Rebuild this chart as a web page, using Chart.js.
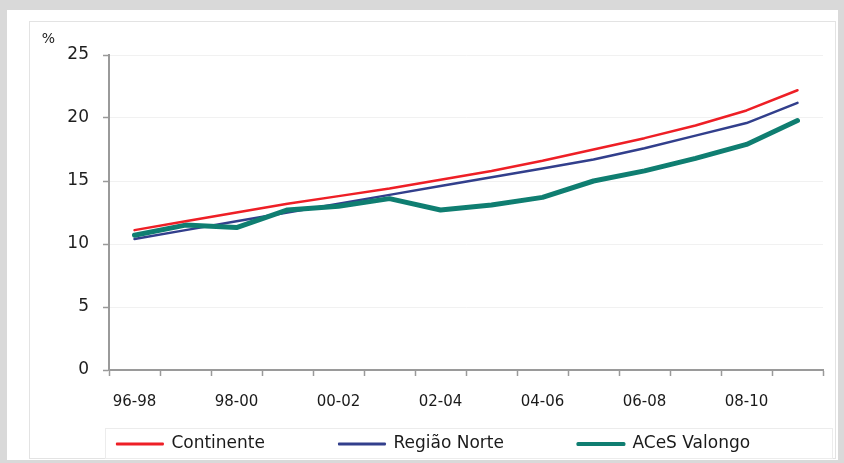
<!DOCTYPE html>
<html>
<head>
<meta charset="utf-8">
<script src="https://cdn.jsdelivr.net/npm/chart.js@4/dist/chart.umd.min.js"></script>
<style>
  html, body { margin: 0; padding: 0; background: #d9d9d9; }
  #wrap { width: 844px; height: 463px; position: relative; }
</style>
</head>
<body>
<div id="wrap"><canvas id="c" width="844" height="463"></canvas></div>
<script>
// ---- data ----
const categories = ['96-98','97-99','98-00','99-01','00-02','01-03','02-04','03-05','04-06','05-07','06-08','07-09','08-10','09-11'];
const continente   = [11.1, 11.8, 12.5, 13.2, 13.8, 14.4, 15.1, 15.8, 16.6, 17.5, 18.4, 19.4, 20.6, 22.2];
const regiaoNorte  = [10.4, 11.1, 11.8, 12.5, 13.2, 13.9, 14.6, 15.3, 16.0, 16.7, 17.6, 18.6, 19.6, 21.2];
const acesValongo  = [10.7, 11.5, 11.3, 12.7, 13.0, 13.6, 12.7, 13.1, 13.7, 15.0, 15.8, 16.8, 17.9, 19.8];
const seriesNames  = ['Continente', 'Região Norte', 'ACeS Valongo'];
const yTicks       = [0, 5, 10, 15, 20, 25];
const yUnit        = '%';

// ---- styles ----
const colors = ['#ee1f26', '#323f8c', '#0f7e71'];
const widths = [2.5, 2.5, 5];
const legendLineWidths = [2, 2, 3];
const FONT = "'DejaVu Sans', sans-serif";

const frame = {
  id: 'frame',
  beforeDraw(chart) {
    const ctx = chart.ctx;
    ctx.save();
    ctx.fillStyle = '#d9d9d9';
    ctx.fillRect(0, 0, chart.width, chart.height);
    ctx.fillStyle = '#ffffff';
    ctx.fillRect(7, 10, 831, 450);
    ctx.strokeStyle = '#e3e3e3';
    ctx.lineWidth = 1;
    ctx.strokeRect(29.5, 21.5, 806, 437);
    ctx.strokeStyle = '#ececec';
    ctx.strokeRect(105.5, 428.5, 727, 30);
    ctx.restore();
  },
  afterLayout(chart) {
    const lg = chart.legend;
    if (!lg) return;
    const pad = lg.options.labels.padding;
    const fs = lg.options.labels.font.size;
    lg.top = 444 - fs / 2 - pad;
    lg.bottom = 463;
    lg.left += 7;
    lg.right += 7;
  },
  afterDraw(chart) {
    const ctx = chart.ctx;
    ctx.save();
    ctx.fillStyle = '#222';
    ctx.font = "14px " + FONT;
    ctx.textAlign = 'center';
    ctx.textBaseline = 'middle';
    ctx.fillText(yUnit, 48.5, 39);
    ctx.restore();
  }
};

const dataArrays = [continente, regiaoNorte, acesValongo];
const drawOrder = [0, 2, 1];

new Chart(document.getElementById('c'), {
  type: 'line',
  data: {
    labels: categories,
    datasets: dataArrays.map((d, i) => ({
      label: seriesNames[i],
      data: d,
      borderColor: colors[i],
      backgroundColor: colors[i],
      borderWidth: widths[i],
      pointRadius: 0,
      pointHoverRadius: 0,
      tension: 0,
      borderJoinStyle: 'round',
      borderCapStyle: 'round',
      order: drawOrder[i]
    }))
  },
  options: {
    responsive: false,
    animation: false,
    devicePixelRatio: 1,
    layout: { padding: { left: 30, right: 21, top: 55, bottom: 23 } },
    scales: {
      x: {
        type: 'category',
        offset: true,
        grid: {
          offset: true,
          drawOnChartArea: false,
          drawTicks: true,
          tickLength: 6,
          tickColor: '#9a9a9a',
          tickWidth: 1.5
        },
        border: { display: true, color: '#9a9a9a', width: 2 },
        ticks: {
          autoSkip: false,
          maxRotation: 0,
          padding: 17,
          color: '#1a1a1a',
          font: { family: FONT, size: 15 },
          callback: function(v, i) { return i % 2 === 0 ? categories[i] : ''; }
        },
        afterFit(scale) { scale.height = 40; }
      },
      y: {
        min: 0,
        max: 25,
        afterBuildTicks(scale) { scale.ticks = yTicks.map(v => ({ value: v })); },
        grid: {
          color: '#f1f1f1',
          lineWidth: 1,
          drawTicks: true,
          tickLength: 6,
          tickColor: '#9a9a9a',
          tickWidth: 1.5
        },
        border: { display: true, color: '#9a9a9a', width: 2 },
        ticks: {
          padding: 14,
          color: '#1e1e1e',
          font: { family: FONT, size: 17 }
        },
        afterFit(scale) { scale.width = 79; }
      }
    },
    plugins: {
      tooltip: { enabled: false },
      legend: {
        display: true,
        position: 'bottom',
        maxHeight: 30,
        labels: {
          boxWidth: 46,
          boxHeight: 1,
          padding: 74,
          color: '#1a1a1a',
          font: { family: FONT, size: 17 },
          sort: (a, b) => a.datasetIndex - b.datasetIndex,
          generateLabels(chart) {
            const items = Chart.defaults.plugins.legend.labels.generateLabels(chart);
            items.forEach(it => {
              it.lineWidth = legendLineWidths[it.datasetIndex];
              it.fillStyle = colors[it.datasetIndex];
              it.strokeStyle = colors[it.datasetIndex];
              it.lineCap = 'butt';
            });
            return items;
          }
        }
      }
    }
  },
  plugins: [frame]
});
</script>
</body>
</html>
